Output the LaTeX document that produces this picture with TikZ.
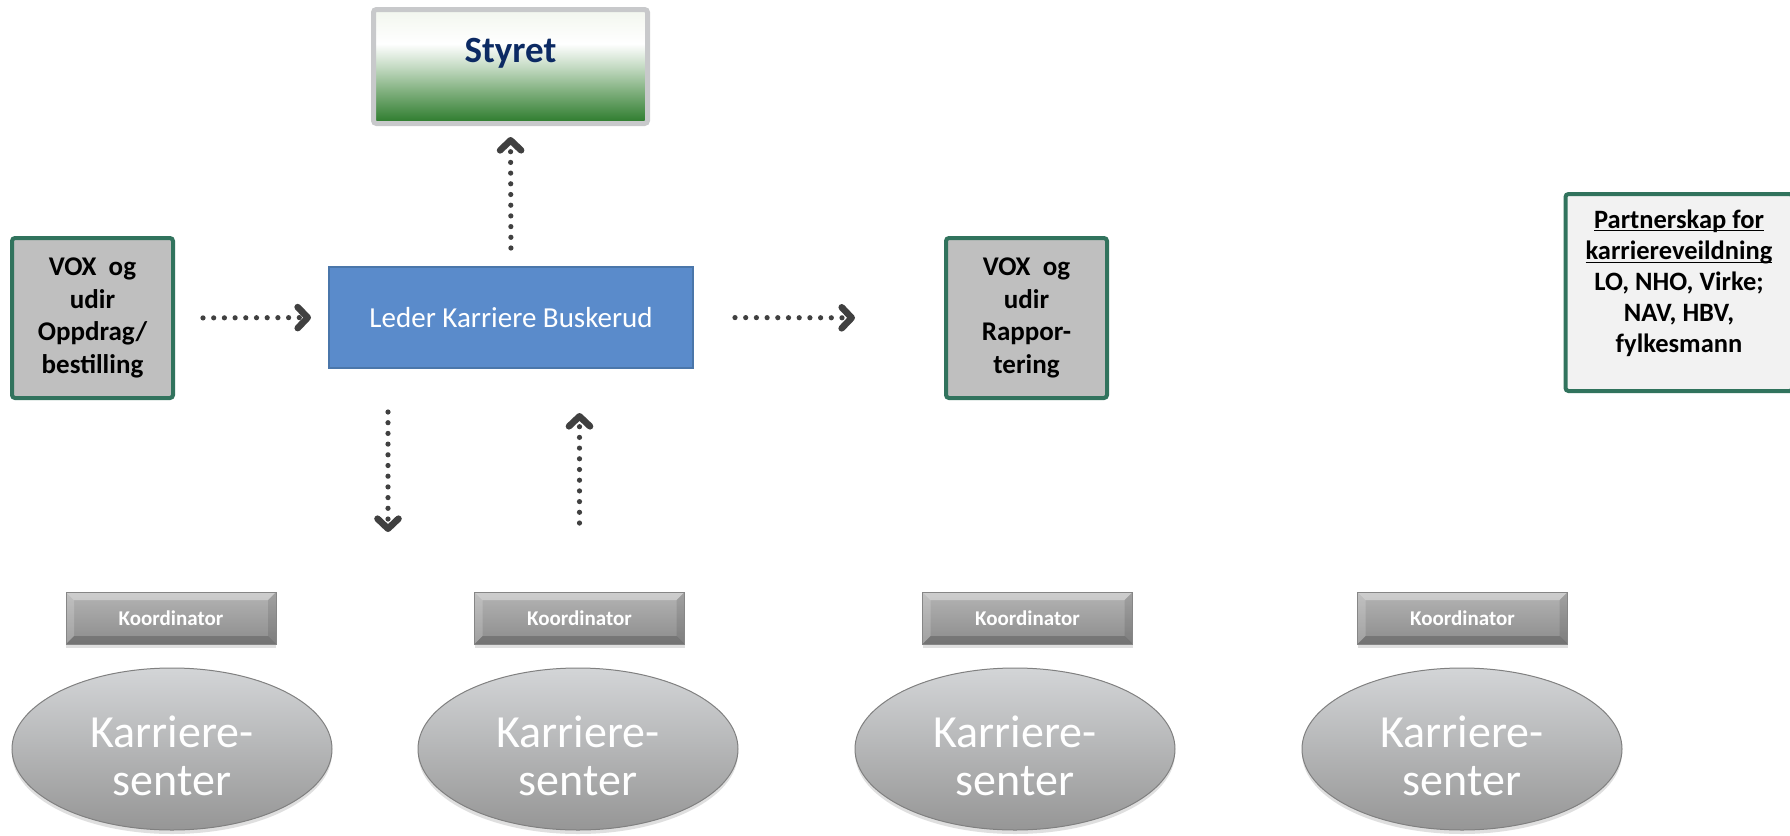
\documentclass[tikz,border=0pt]{standalone}
\usepackage{fontspec}
\setmainfont{Carlito}
\usetikzlibrary{arrows.meta,shapes.geometric,shadows}
\definecolor{voxgreen}{HTML}{31735D}
\definecolor{voxfill}{HTML}{BFBFBF}
\definecolor{partfill}{HTML}{F2F2F2}
\definecolor{leadfill}{HTML}{5A8BCB}
\definecolor{leadline}{HTML}{4A76AA}
\definecolor{arrowgray}{HTML}{404040}
\definecolor{styrettxt}{HTML}{0C2A63}
\definecolor{styrline}{HTML}{C8C9CB}
\definecolor{sgA}{HTML}{F2F6EE}
\definecolor{sgB}{HTML}{FFFFFF}
\definecolor{sgC}{HTML}{C5DBC4}
\definecolor{sgD}{HTML}{7FAF7D}
\definecolor{sgE}{HTML}{2A7A2A}
\definecolor{kt}{HTML}{B4B4B4}
\definecolor{kb}{HTML}{8C8C8C}
\definecolor{kline}{HTML}{868686}
\definecolor{et}{HTML}{D3D5D7}
\definecolor{eb}{HTML}{969696}
\definecolor{eline}{HTML}{808080}
\pgfdeclareverticalshading{styretshade}{100bp}{color(0bp)=(sgE); color(25bp)=(sgE); color(39bp)=(sgD); color(50bp)=(sgC); color(60bp)=(sgB); color(75bp)=(sgA); color(100bp)=(sgA)}
\newcommand\ulbox[1]{\underline{\smash{#1}}}
\tikzset{
  voxbox/.style={rectangle, draw=voxgreen, line width=2pt, fill=voxfill, rounded corners=1.5pt,
    minimum width=80.5pt, minimum height=80pt, inner sep=0pt, outer sep=0pt, align=center,
    font=\fontsize{13.5pt}{16.25pt}\selectfont\bfseries},
  partbox/.style={voxbox, fill=partfill, minimum width=113.5pt, minimum height=98.5pt,
    font=\fontsize{13.25pt}{15.6pt}\selectfont\bfseries},
  leadbox/.style={rectangle, draw=leadline, line width=0.75pt, fill=leadfill, minimum width=182pt,
    minimum height=50.5pt, inner sep=0pt, outer sep=0pt, text=white, font=\fontsize{14.5pt}{17pt}\selectfont},
  styrbox/.style={rectangle, draw=styrline, line width=2.5pt, rounded corners=1.5pt, shading=styretshade,
    minimum width=137pt, minimum height=57pt, inner sep=0pt, outer sep=0pt},
  styrlabel/.style={text=styrettxt, font=\fontsize{18.5pt}{22pt}\selectfont\bfseries, inner sep=0pt},
  koord/.style={rectangle, minimum width=105pt, minimum height=26pt, inner sep=0pt, outer sep=0pt,
    top color=kt, bottom color=kb, draw=kline, line width=0.4pt,
    drop shadow={shadow xshift=0pt, shadow yshift=-2pt, opacity=0.25},
    text=white, font=\fontsize{10.5pt}{12pt}\selectfont\bfseries,
    path picture={
      \fill[white, opacity=0.35] (path picture bounding box.north west) -- (path picture bounding box.north east)
        -- ([xshift=-4pt,yshift=-4pt]path picture bounding box.north east) -- ([xshift=4pt,yshift=-4pt]path picture bounding box.north west) -- cycle;
      \fill[white, opacity=0.18] (path picture bounding box.north west) -- ([xshift=4pt,yshift=-4pt]path picture bounding box.north west)
        -- ([xshift=4pt,yshift=4pt]path picture bounding box.south west) -- (path picture bounding box.south west) -- cycle;
      \fill[black, opacity=0.10] (path picture bounding box.north east) -- ([xshift=-4pt,yshift=-4pt]path picture bounding box.north east)
        -- ([xshift=-4pt,yshift=4pt]path picture bounding box.south east) -- (path picture bounding box.south east) -- cycle;
      \fill[black, opacity=0.18] (path picture bounding box.south west) -- ([xshift=4pt,yshift=4pt]path picture bounding box.south west)
        -- ([xshift=-4pt,yshift=4pt]path picture bounding box.south east) -- (path picture bounding box.south east) -- cycle;
    }},
  karr/.style={ellipse, minimum width=160pt, minimum height=81pt, inner sep=0pt, outer sep=0pt,
    top color=et, bottom color=eb, draw=eline, line width=0.5pt,
    drop shadow={shadow xshift=0pt, shadow yshift=-2pt, opacity=0.25}},
  karrtext/.style={text=white, align=center, inner sep=0pt, font=\fontsize{23pt}{24pt}\selectfont},
  dotarrow/.style={draw=arrowgray, line width=2.6pt, line cap=round, dash pattern=on 0pt off 5.35pt,
    -{Straight Barb[length=5pt,width=10.5pt,line width=3.3pt,round]}}
}
\begin{document}
\begin{tikzpicture}[x=0.5pt,y=-0.5pt]
\fill[white] (0,0) rectangle (1790,836);
\useasboundingbox (0,0) rectangle (1790,836);

% top
\node[styrbox] (styret) at (510.5,66.5) {};
\node[styrlabel] (styretlbl) at (510.5,53) {Styret};

\node[leadbox] (leader) at (511,317.5) {Leder Karriere Buskerud};

\node[voxbox] (vox1) at (92.5,318) {VOX\ \ og\\udir\\Oppdrag/\\bestilling};
\node[voxbox] (vox2) at (1026.5,318) {VOX\ \ og\\udir\\Rappor-\\tering};

\node[partbox] (partner) at (1679,292.5) {\ulbox{Partnerskap for}\\\ulbox{karriereveildning}\\LO, NHO, Virke;\\NAV, HBV,\\fylkesmann};

% koordinator boxes
\node[koord] (k1) at (171,618) {Koordinator};
\node[koord] (k2) at (579.5,618) {Koordinator};
\node[koord] (k3) at (1027.5,618) {Koordinator};
\node[koord] (k4) at (1462.5,618) {Koordinator};

% karrieresenter ellipses
\node[karr] (e1) at (172,749) {};
\node[karr] (e2) at (578,749) {};
\node[karr] (e3) at (1015,749) {};
\node[karr] (e4) at (1462,749) {};
\node[karrtext] (t1) at ([yshift=-3.5pt]e1.center) {Karriere-\\senter};
\node[karrtext] (t2) at ([yshift=-3.5pt]e2.center) {Karriere-\\senter};
\node[karrtext] (t3) at ([yshift=-3.5pt]e3.center) {Karriere-\\senter};
\node[karrtext] (t4) at ([yshift=-3.5pt]e4.center) {Karriere-\\senter};

% connectors
\draw[dotarrow, shorten <=15pt, shorten >=9pt] (vox1.east) -- (leader.west);
\draw[dotarrow, shorten <=21pt, shorten >=45.5pt] (leader.east) -- (vox2.west);
\draw[dotarrow, shorten <=9.5pt, shorten >=6.75pt] (leader.north) -- (styret.south);
\coordinate (dtip) at (388,532);
\draw[dotarrow, shorten <=22pt] (leader.south -| dtip) -- (dtip);
\draw[dotarrow, shorten <=34.5pt, shorten >=22.5pt] (k2.north) -- (leader.south -| k2.north);
\end{tikzpicture}
\end{document}
